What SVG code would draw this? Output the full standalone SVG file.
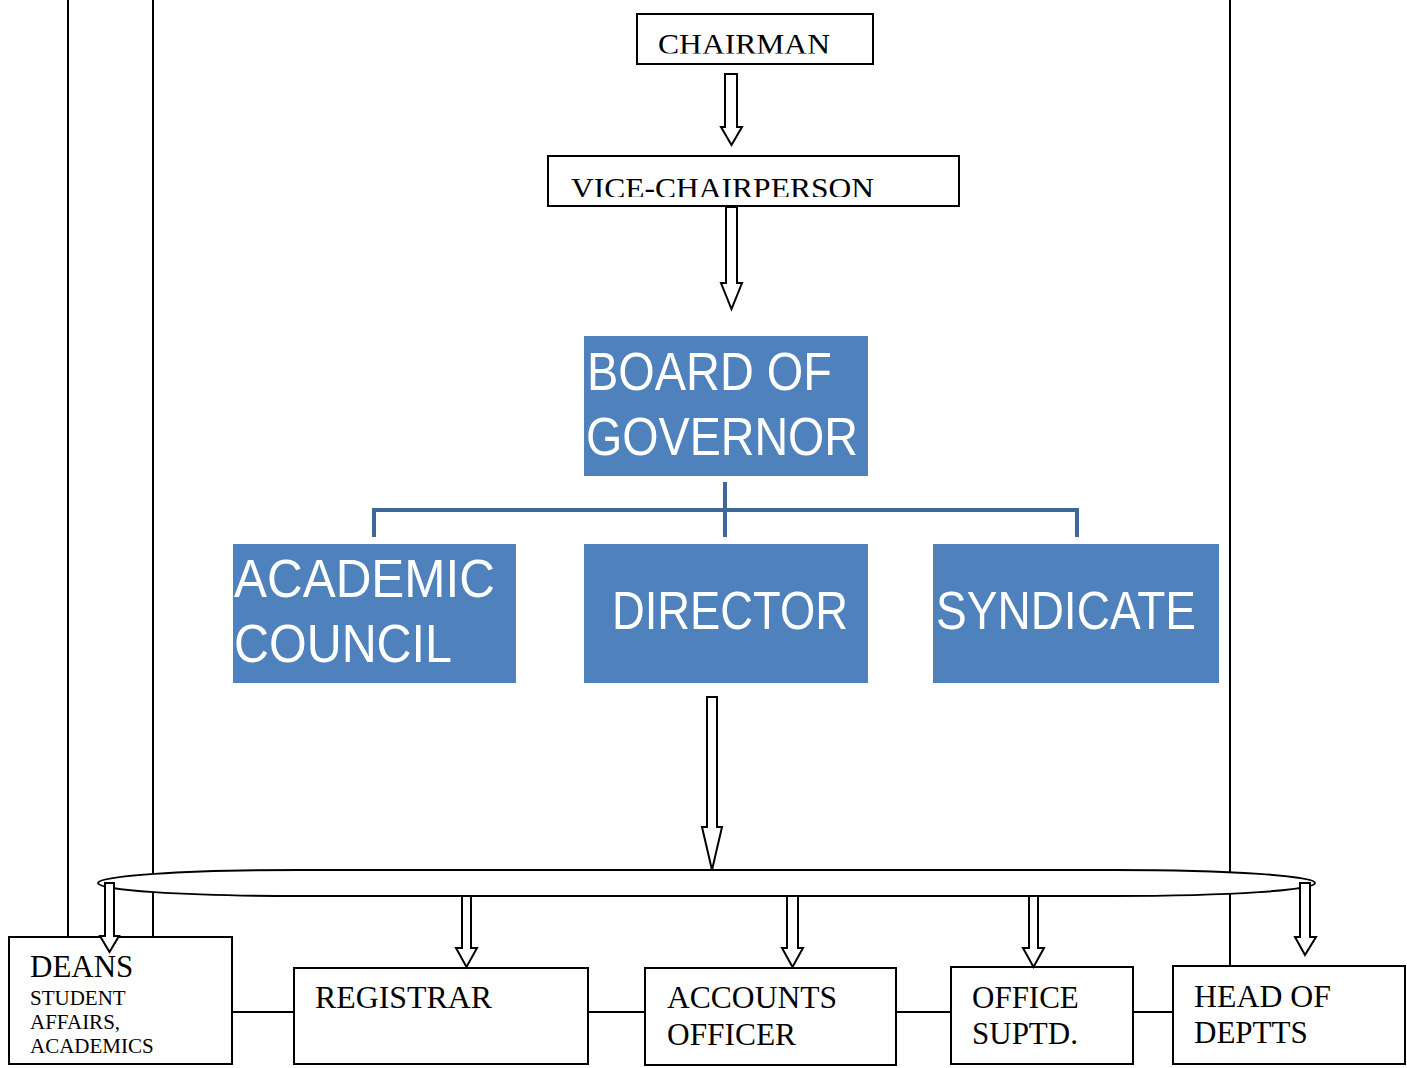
<svg xmlns="http://www.w3.org/2000/svg" width="1407" height="1068" viewBox="0 0 1407 1068">
<style>
.bx{fill:#fff;stroke:#000;stroke-width:2}
.bl{fill:#4F81BD;stroke:none}
.ln{stroke:#000;stroke-width:2;fill:none}
.ar{fill:#fff;stroke:#000;stroke-width:2;stroke-linejoin:miter}
.bc{stroke:#3F6797;stroke-width:4;fill:none}
.st{font-family:"Liberation Serif","Times New Roman",serif;fill:#000}
.wt{font-family:"Liberation Sans",Arial,sans-serif;fill:#fff;font-size:53px}
</style>
<defs>
<clipPath id="c1"><rect x="637" y="14" width="236" height="39.5"/></clipPath>
<clipPath id="c2"><rect x="548" y="156" width="411" height="41"/></clipPath>
</defs>
<rect width="1407" height="1068" fill="#fff"/>

<g id="frame-lines">
<line class="ln" x1="68" y1="0" x2="68" y2="937"/>
<line class="ln" x1="153" y1="0" x2="153" y2="937"/>
<line class="ln" x1="1230" y1="0" x2="1230" y2="966"/>
</g>

<g id="chairman">
<rect class="bx" x="637" y="14" width="236" height="50"/>
<text class="st" x="658" y="53.5" font-size="30" textLength="172" lengthAdjust="spacingAndGlyphs" clip-path="url(#c1)">CHAIRMAN</text>
</g>

<g id="vice-chairperson">
<rect class="bx" x="548" y="156" width="411" height="50"/>
<text class="st" x="571" y="198" font-size="29" textLength="303" lengthAdjust="spacingAndGlyphs" clip-path="url(#c2)">VICE-CHAIRPERSON</text>
</g>

<g id="board-of-governor">
<rect class="bl" x="584" y="336" width="284" height="140"/>
<text class="wt" x="587" y="390" textLength="245" lengthAdjust="spacingAndGlyphs">BOARD OF</text>
<text class="wt" x="586" y="455" textLength="272" lengthAdjust="spacingAndGlyphs">GOVERNOR</text>
</g>

<g id="academic-council">
<rect class="bl" x="233" y="544" width="283" height="139"/>
<text class="wt" x="234" y="597" textLength="261" lengthAdjust="spacingAndGlyphs">ACADEMIC</text>
<text class="wt" x="234" y="662" textLength="218" lengthAdjust="spacingAndGlyphs">COUNCIL</text>
</g>

<g id="director">
<rect class="bl" x="584" y="544" width="284" height="139"/>
<text class="wt" x="612" y="629" textLength="236" lengthAdjust="spacingAndGlyphs">DIRECTOR</text>
</g>

<g id="syndicate">
<rect class="bl" x="933" y="544" width="286" height="139"/>
<text class="wt" x="936" y="629" textLength="260" lengthAdjust="spacingAndGlyphs">SYNDICATE</text>
</g>

<g id="deans">
<rect class="bx" x="9" y="937" width="223" height="127"/>
<text class="st" x="30" y="977" font-size="31">DEANS</text>
<text class="st" x="30" y="1005" font-size="21">STUDENT</text>
<text class="st" x="30" y="1029" font-size="21">AFFAIRS,</text>
<text class="st" x="30" y="1053" font-size="21">ACADEMICS</text>
</g>

<g id="registrar">
<rect class="bx" x="294" y="968" width="294" height="96"/>
<text class="st" x="315" y="1008" font-size="31" textLength="177" lengthAdjust="spacingAndGlyphs">REGISTRAR</text>
</g>

<g id="accounts-officer">
<rect class="bx" x="645" y="968" width="251" height="97"/>
<text class="st" x="667" y="1008" font-size="31" textLength="170" lengthAdjust="spacingAndGlyphs">ACCOUNTS</text>
<text class="st" x="667" y="1045" font-size="31" textLength="129" lengthAdjust="spacingAndGlyphs">OFFICER</text>
</g>

<g id="office-suptd">
<rect class="bx" x="951" y="967" width="182" height="97"/>
<text class="st" x="972" y="1008" font-size="31">OFFICE</text>
<text class="st" x="972" y="1044" font-size="31">SUPTD.</text>
</g>

<g id="head-of-deptts">
<rect class="bx" x="1173" y="966" width="232" height="98"/>
<text class="st" x="1194" y="1007" font-size="31" textLength="137" lengthAdjust="spacingAndGlyphs">HEAD OF</text>
<text class="st" x="1194" y="1043" font-size="31">DEPTTS</text>
</g>

<g id="connectors">
<polygon class="ar" points="725,74 737,74 737,127 742,127 731.5,145 721,127 725,127"/>
<polygon class="ar" points="726,207 737,207 737,283 742,283 731.5,309 721,283 726,283"/>
<path class="bc" d="M725,482 V537 M374,537 V510 H1077 V537"/>
<polygon class="ar" points="707,697 717,697 717,827 722,827 712,870 702,827 707,827"/>
<path class="ar" d="M98,883 C98,876 180,870 300,870 L1113,870 C1233,870 1315,876 1315,883 C1315,890 1233,896 1113,896 L300,896 C180,896 98,890 98,883 Z"/>
<polygon class="ar" points="105,883 114,883 114,936 119,936 109.5,952 100,936 105,936"/>
<polygon class="ar" points="462,896 471,896 471,948 477,948 466.5,967 456,948 462,948"/>
<polygon class="ar" points="787,896 798,896 798,948 803,948 792.5,967 782,948 787,948"/>
<polygon class="ar" points="1029,896 1038,896 1038,948 1044,948 1033.5,967 1023,948 1029,948"/>
<polygon class="ar" points="1300,883 1310,883 1310,937 1316,937 1305,955 1295,937 1300,937"/>
<line class="ln" x1="232" y1="1012" x2="294" y2="1012"/>
<line class="ln" x1="588" y1="1012" x2="645" y2="1012"/>
<line class="ln" x1="896" y1="1012" x2="951" y2="1012"/>
<line class="ln" x1="1133" y1="1012" x2="1173" y2="1012"/>
</g>
</svg>
